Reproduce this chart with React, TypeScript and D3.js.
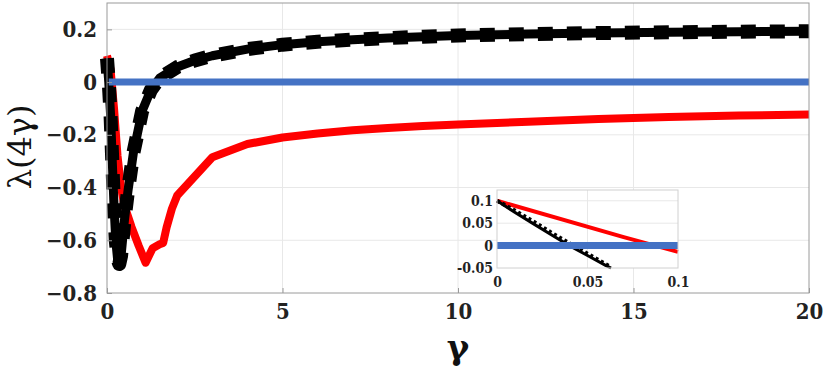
import React, { useEffect, useRef } from 'react';
import * as d3 from 'd3';

// main plot data (gamma, lambda)
const blackGamma = [0, 0.05, 0.1, 0.15, 0.2, 0.25, 0.3, 0.35, 0.4, 0.5, 0.6, 0.75, 1.0, 1.25, 1.5, 2, 2.5, 3, 4, 5, 6, 7, 8, 9, 10, 12, 14, 16, 18, 20];
const blackVals = [0.09, 0.0, -0.12, -0.3, -0.47, -0.6, -0.67, -0.69, -0.66, -0.52, -0.41, -0.27, -0.11, -0.03, 0.015, 0.057, 0.082, 0.1, 0.125, 0.142, 0.153, 0.161, 0.167, 0.172, 0.177, 0.182, 0.186, 0.189, 0.191, 0.193];

const redGamma = [0, 0.1, 0.2, 0.3, 0.4, 0.5, 0.7, 0.9, 1.1, 1.3, 1.5, 1.6, 1.7, 1.85, 2, 3, 4, 5, 6, 7, 8, 9, 10, 12, 14, 16, 18, 20];
const redVals = [0.1, 0.05, -0.1, -0.28, -0.4, -0.47, -0.55, -0.62, -0.685, -0.63, -0.615, -0.61, -0.55, -0.48, -0.43, -0.285, -0.235, -0.21, -0.195, -0.183, -0.174, -0.167, -0.161, -0.15, -0.14, -0.132, -0.127, -0.123];

const blueGamma = [0.05, 20];
const blueVals = [0, 0];

// inset data
const insetBlackGamma = [0, 0.01, 0.02, 0.03, 0.04, 0.05, 0.06, 0.063];
const insetBlackVals = [0.1, 0.074, 0.049, 0.024, 0.0, -0.022, -0.044, -0.05];
const insetDotGamma = [0, 0.01, 0.02, 0.03, 0.04, 0.05, 0.06, 0.063];
const insetDotVals = [0.1, 0.078, 0.054, 0.029, 0.005, -0.018, -0.041, -0.048];
const insetRedGamma = [0, 0.07, 0.1];
const insetRedVals = [0.1, 0.019, -0.014];
const insetBlueGamma = [0, 0.1];
const insetBlueVals = [0, 0];

const xTicks = [0, 5, 10, 15, 20];
const yTicks = [-0.8, -0.6, -0.4, -0.2, 0, 0.2];
const insetXTicks = [0, 0.05, 0.1];
const insetYTicks = [-0.05, 0, 0.05, 0.1];

const zip = (xs: number[], ys: number[]) => xs.map((x, i) => [x, ys[i]] as [number, number]);

const FONT = '"DejaVu Serif Condensed", "DejaVu Serif", serif';
const LABEL_FONT = '"DejaVu Serif", serif';

const App = () => {
    const ref = useRef<SVGSVGElement>(null);

    useEffect(() => {
        const svg = d3.select(ref.current);
        svg.selectAll("*").remove();

        const x = d3.scaleLinear().domain([0, 20]).range([107, 809]);
        const y = d3.scaleLinear().domain([-0.8, 0.3]).range([293, 3]);

        // gridlines
        const grid = svg.append("g").attr("stroke", "#e8e8e8").attr("stroke-width", 1);
        xTicks.slice(1, -1).forEach(t => {
            grid.append("line").attr("x1", x(t)).attr("x2", x(t)).attr("y1", y.range()[1]).attr("y2", y.range()[0]);
        });
        yTicks.slice(1).forEach(t => {
            grid.append("line").attr("x1", x.range()[0]).attr("x2", x.range()[1]).attr("y1", y(t)).attr("y2", y(t));
        });

        const line = d3.line<[number, number]>().x(d => x(d[0])).y(d => y(d[1]));

        svg.append("path").datum(zip(redGamma, redVals))
            .attr("d", line).attr("fill", "none").attr("stroke", "#ff0000")
            .attr("stroke-width", 8).attr("stroke-linejoin", "round");
        svg.append("path").datum(zip(blackGamma, blackVals))
            .attr("d", line).attr("fill", "none").attr("stroke", "#000")
            .attr("stroke-width", 9).attr("stroke-linejoin", "round");
        svg.append("path").datum(zip(blackGamma, blackVals))
            .attr("d", line).attr("fill", "none").attr("stroke", "#000")
            .attr("stroke-width", 14).attr("stroke-dasharray", "15,14").attr("stroke-linejoin", "round");
        svg.append("path").datum(zip(blueGamma, blueVals))
            .attr("d", line).attr("fill", "none").attr("stroke", "#4472c4")
            .attr("stroke-width", 7);

        // axes box
        const [x0, x1] = x.range();
        const [y1, y0] = y.range();
        svg.append("rect").attr("x", x0).attr("y", y0).attr("width", x1 - x0).attr("height", y1 - y0)
            .attr("fill", "none").attr("stroke", "#9a9a9a").attr("stroke-width", 1);

        const xAxis = svg.append("g").attr("transform", `translate(0, ${y1})`)
            .call(d3.axisBottom(x).tickValues(xTicks).tickSizeInner(-5).tickSizeOuter(0).tickPadding(10).tickFormat(d3.format("d")));
        xAxis.select(".domain").remove();
        xAxis.selectAll("line").attr("stroke", "#9a9a9a");
        xAxis.attr("font-family", null);
        xAxis.selectAll("text").style("font-family", FONT).attr("font-weight", "bold")
            .attr("font-size", 22).attr("fill", "#222");

        const yAxis = svg.append("g").attr("transform", `translate(${x0}, 0)`)
            .call(d3.axisLeft(y).tickValues(yTicks).tickSizeInner(-5).tickSizeOuter(0).tickPadding(10)
                .tickFormat(d => (+d === 0 ? "0" : d3.format(".1f")(+d))));
        yAxis.select(".domain").remove();
        yAxis.selectAll("line").attr("stroke", "#9a9a9a");
        yAxis.attr("font-family", null);
        yAxis.selectAll("text").style("font-family", FONT).attr("font-weight", "bold")
            .attr("font-size", 22).attr("fill", "#222");

        // axis labels
        svg.append("text").attr("x", 458).attr("y", 359).attr("text-anchor", "middle")
            .style("font-family", LABEL_FONT).attr("font-weight", "bold").attr("font-size", 34)
            .attr("fill", "#111").text("γ");
        svg.append("text").attr("transform", "translate(31, 147) rotate(-90)").attr("text-anchor", "middle")
            .style("font-family", LABEL_FONT).attr("font-size", 32).attr("fill", "#111").text("λ(4γ)");

        // inset
        const ix = d3.scaleLinear().domain([0, 0.1]).range([497, 678]);
        const iy = d3.scaleLinear().domain([-0.05, 0.124]).range([268, 190]);
        const [ix0, ix1] = ix.range();
        const [iy1, iy0] = iy.range();
        const inset = svg.append("g");
        inset.append("rect").attr("x", ix0).attr("y", iy0).attr("width", ix1 - ix0).attr("height", iy1 - iy0)
            .attr("fill", "#fff");
        const igrid = inset.append("g").attr("stroke", "#e8e8e8");
        insetXTicks.slice(1, -1).forEach(t => {
            igrid.append("line").attr("x1", ix(t)).attr("x2", ix(t)).attr("y1", iy0).attr("y2", iy1);
        });
        insetYTicks.slice(1).forEach(t => {
            igrid.append("line").attr("x1", ix0).attr("x2", ix1).attr("y1", iy(t)).attr("y2", iy(t));
        });

        const iline = d3.line<[number, number]>().x(d => ix(d[0])).y(d => iy(d[1]));
        inset.append("path").datum(zip(insetRedGamma, insetRedVals))
            .attr("d", iline).attr("fill", "none").attr("stroke", "#ff0000").attr("stroke-width", 4);
        inset.append("path").datum(zip(insetDotGamma, insetDotVals))
            .attr("d", iline).attr("fill", "none").attr("stroke", "#000")
            .attr("stroke-width", 4).attr("stroke-dasharray", "3,3");
        inset.append("path").datum(zip(insetBlackGamma, insetBlackVals))
            .attr("d", iline).attr("fill", "none").attr("stroke", "#000").attr("stroke-width", 3);
        inset.append("path").datum(zip(insetBlueGamma, insetBlueVals))
            .attr("d", iline).attr("fill", "none").attr("stroke", "#4472c4").attr("stroke-width", 7);

        inset.append("rect").attr("x", ix0).attr("y", iy0).attr("width", ix1 - ix0).attr("height", iy1 - iy0)
            .attr("fill", "none").attr("stroke", "#d0d0d0");

        const ixAxis = inset.append("g").attr("transform", `translate(0, ${iy1})`)
            .call(d3.axisBottom(ix).tickValues(insetXTicks).tickSize(0).tickPadding(9)
                .tickFormat(d => (+d === 0 ? "0" : String(+d))));
        ixAxis.select(".domain").remove();
        ixAxis.attr("font-family", null);
        ixAxis.selectAll("text").style("font-family", FONT).attr("font-weight", "bold")
            .attr("font-size", 14).attr("fill", "#222");
        const iyAxis = inset.append("g").attr("transform", `translate(${ix0}, 0)`)
            .call(d3.axisLeft(iy).tickValues(insetYTicks).tickSize(0).tickPadding(4)
                .tickFormat(d => (+d === 0 ? "0" : String(+d))));
        iyAxis.select(".domain").remove();
        iyAxis.attr("font-family", null);
        iyAxis.selectAll("text").style("font-family", FONT).attr("font-weight", "bold")
            .attr("font-size", 14).attr("fill", "#222");
    }, []);

    return (
        <svg ref={ref} width={823} height={368}
            style={{ position: 'absolute', left: 0, top: 0, background: '#fff' }} />
    );
};

export default App;
